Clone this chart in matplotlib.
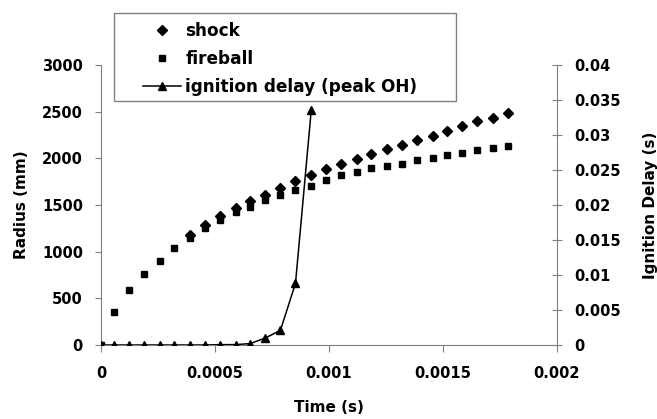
import numpy as np
import matplotlib.pyplot as plt
from matplotlib.patches import Rectangle

plt.rcParams['font.family'] = ['DejaVu Sans']
plt.rcParams['font.weight'] = 'bold'

# times of the frames (s)
time = [0, 0.0000592, 0.000124, 0.00019, 0.000258, 0.000322, 0.000391,
        0.000455, 0.000523, 0.00059, 0.000654, 0.000721, 0.000787,
        0.000853, 0.000922, 0.000988, 0.001054, 0.001122, 0.001185,
        0.001255, 0.001318, 0.001387, 0.001454, 0.001517, 0.001584,
        0.00165, 0.001718, 0.001787]

# fireball radius (mm), all frames
fireball = [0, 357, 590, 757, 897, 1036, 1143, 1254, 1339, 1420, 1482,
            1550, 1607, 1661, 1707, 1768, 1821, 1854, 1893, 1921, 1939,
            1979, 2007, 2032, 2054, 2086, 2111, 2132]

# shock radius (mm), from frame 6 on
shock_time = time[6:]
shock = [1180, 1290, 1380, 1468, 1543, 1607, 1686, 1757, 1821, 1882,
         1936, 1989, 2046, 2104, 2143, 2196, 2243, 2293, 2350, 2400,
         2436, 2486]

# ignition delay (s), first 15 frames
ign_time = time[:15]
ign_delay = [0, 0, 0, 0, 0, 0, 0, 0, 0.00005, 0.00005, 0.0002, 0.001,
             0.0021, 0.0088, 0.0335]

W, H = 657, 419
fig = plt.figure(figsize=(W / 100, H / 100), dpi=100)
ax = fig.add_axes([101 / W, 1 - 345 / H, 456 / W, 280 / H])
ax2 = ax.twinx()

h1, = ax.plot(shock_time, shock, 'D', color='black', markersize=4.6, label='shock', zorder=3)
h2, = ax.plot(time, fireball, 's', color='black', markersize=5, label='fireball', zorder=2)
h3, = ax2.plot(ign_time, ign_delay, '-^', color='black', lw=1.1, markersize=5.5,
               label='ignition delay (peak OH)')

ax.set_xlim(0, 0.002)
ax.set_ylim(0, 3000)
ax2.set_ylim(0, 0.04)
ax.set_xticks([0, 0.0005, 0.001, 0.0015, 0.002])
ax.set_xticklabels(['0', '0.0005', '0.001', '0.0015', '0.002'])
ax.set_yticks(range(0, 3001, 500))
ax2.set_yticks(np.arange(0, 0.0401, 0.005))
ax2.set_yticklabels(['0', '0.005', '0.01', '0.015', '0.02', '0.025', '0.03', '0.035', '0.04'])

for a in (ax, ax2):
    for s in a.spines.values():
        s.set_color('#808080')
    a.spines['top'].set_visible(False)
ax.spines['right'].set_visible(False)
ax2.spines['left'].set_visible(False)
ax2.spines['bottom'].set_visible(False)

ax.tick_params(axis='x', direction='out', length=5, width=0.8, color='#808080', pad=10, labelsize=10.5)
ax.tick_params(axis='y', direction='out', length=4, width=0.8, color='#808080', pad=9, labelsize=10.5)
ax2.tick_params(axis='y', direction='inout', length=7, width=0.8, color='#808080', pad=9, labelsize=10.5)
for lab in ax.get_xticklabels() + ax.get_yticklabels() + ax2.get_yticklabels():
    lab.set_fontweight('bold')

ax.set_xlabel('Time (s)', fontsize=11, fontweight='bold')
ax.set_ylabel('Radius (mm)', fontsize=11, fontweight='bold')
ax2.set_ylabel('Ignition Delay (s)', fontsize=11, fontweight='bold', rotation=90)
ax.xaxis.label.set_va('center')
ax.xaxis.set_label_coords(0.5, (345 - 407) / 280)
ax.yaxis.label.set_va('center')
ax.yaxis.set_label_coords((22 - 101) / 456, 0.5)
ax2.yaxis.label.set_va('center')
ax2.yaxis.set_label_coords((650 - 101) / 456, 0.5)

# legend frame and entries
fig.patches.append(Rectangle((114 / W, 1 - 101 / H), (456 - 114) / W, 88 / H,
                             transform=fig.transFigure, facecolor='white',
                             edgecolor='#808080', lw=1, zorder=5))
leg = fig.legend(handles=[h1, h2, h3], loc='upper left',
                 bbox_to_anchor=(143 / W, 1 - 22 / H), frameon=False,
                 borderpad=0, borderaxespad=0, handlelength=2.25, handletextpad=0.25,
                 labelspacing=0.6, prop={'size': 12.2, 'weight': 'bold'})
leg.set_zorder(6)

fig.savefig('out.png', dpi=100)
